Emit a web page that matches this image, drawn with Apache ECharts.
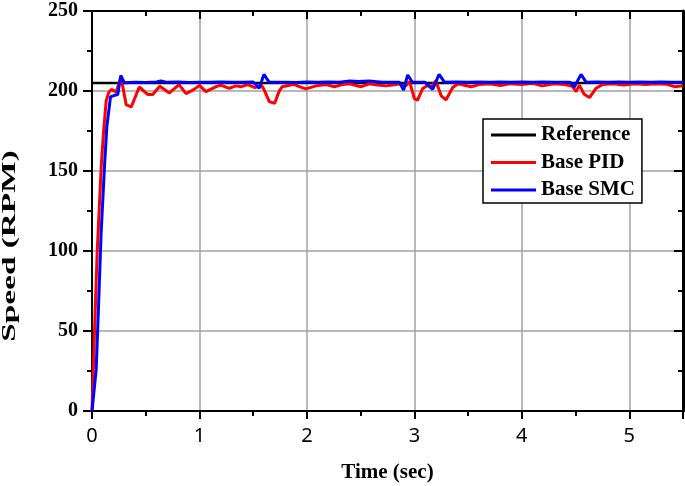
<!DOCTYPE html>
<html>
<head>
<meta charset="utf-8">
<script src="https://cdn.jsdelivr.net/npm/echarts@6/dist/echarts.min.js"></script>
<style>
  html, body { margin: 0; padding: 0; background: #fff; }
  #chart { width: 685px; height: 486px; }
</style>
</head>
<body>
<div id="chart"></div>
<script>
// speed response data, [time (sec), speed (RPM)]
var refData = [[0, 205], [5.5, 205]]

var pidData = [
  [0, 0], [0.023, 49], [0.048, 99], [0.086, 153], [0.107, 174], [0.132, 194],
  [0.155, 199], [0.18, 201], [0.225, 199.4], [0.27, 208.7], [0.318, 191.5], [0.365, 190],
  [0.44, 202.5], [0.52, 197.8], [0.565, 197.8], [0.63, 203], [0.72, 198.8], [0.81, 204],
  [0.875, 198.4], [0.95, 201], [1.0, 203.5], [1.06, 199.6], [1.155, 202.7], [1.2, 203.7],
  [1.277, 201.7], [1.34, 203.2], [1.39, 202.7], [1.45, 204], [1.515, 202.1], [1.575, 203.7],
  [1.6, 201], [1.65, 193.4], [1.7, 192.3], [1.74, 199.6], [1.77, 202.7], [1.88, 204.2],
  [1.93, 202.7], [1.99, 201.3], [2.085, 203.2], [2.18, 204], [2.255, 202.7], [2.33, 204],
  [2.395, 204.5], [2.505, 202.7], [2.58, 204.5], [2.66, 203.7], [2.735, 203.2], [2.83, 204],
  [2.86, 204.5], [2.9, 203], [2.925, 203.5], [2.955, 206], [3.0, 195.2], [3.03, 194.3],
  [3.077, 201.5], [3.124, 203.5], [3.155, 202.7], [3.2, 206.2], [3.25, 197], [3.295, 194.5],
  [3.355, 202], [3.405, 204.5], [3.53, 202.7], [3.6, 204], [3.7, 204.5], [3.8, 203.5],
  [3.9, 204.6], [4.0, 204], [4.1, 204.8], [4.19, 203.2], [4.3, 204.5], [4.4, 204],
  [4.47, 203], [4.505, 199.6], [4.535, 203.7], [4.58, 198], [4.63, 195.9], [4.69, 201.7],
  [4.75, 204], [4.85, 204.5], [4.95, 203.8], [5.05, 204.6], [5.15, 204], [5.25, 204.5],
  [5.35, 204.2], [5.42, 202.7], [5.5, 203.2]
]

var smcData = [
  [0, 0], [0.039, 26], [0.063, 69.5], [0.085, 111], [0.116, 152.6], [0.138, 177.6],
  [0.172, 196.3], [0.209, 197.3], [0.24, 197.8], [0.268, 209.7], [0.3, 205.2], [0.4, 205.5],
  [0.5, 205.3], [0.6, 205.6], [0.64, 206.2], [0.7, 205.4], [0.8, 205.6], [0.9, 205.3],
  [1.0, 205.5], [1.1, 205.4], [1.2, 205.7], [1.3, 205.4], [1.4, 205.5], [1.5, 205.6],
  [1.556, 201.7], [1.6, 210.4], [1.65, 205.4], [1.8, 205.5], [1.9, 205.3], [2.0, 205.6],
  [2.1, 205.4], [2.2, 205.6], [2.3, 205.5], [2.4, 206.2], [2.48, 206], [2.58, 206.2],
  [2.7, 205.5], [2.8, 205.4], [2.86, 205.5], [2.9, 200.6], [2.938, 210], [2.98, 205.6],
  [3.1, 205.4], [3.17, 201], [3.23, 210.4], [3.28, 205.5], [3.4, 205.6], [3.5, 205.4],
  [3.6, 205.6], [3.7, 205.4], [3.8, 205.6], [3.9, 205.4], [4.0, 205.6], [4.1, 205.4],
  [4.2, 205.6], [4.3, 205.4], [4.45, 205.5], [4.488, 202.5], [4.551, 210.4], [4.6, 205.4],
  [4.7, 205.6], [4.8, 205.4], [4.9, 205.6], [5.0, 205.4], [5.1, 205.6], [5.2, 205.4],
  [5.3, 205.6], [5.4, 205.4], [5.5, 205.5]
]

var seriesNames = ['Reference', 'Base PID', 'Base SMC']

var serif = '"Liberation Serif", "Times New Roman", serif'
var chart = echarts.init(document.getElementById('chart'))

var gridLine = { show: true, lineStyle: { color: '#a0a0a0', width: 1.5 } }
var blackLine = { show: true, onZero: false, lineStyle: { color: '#000', width: 2 } }

chart.setOption({
  animation: false,
  grid: { left: 92, right: 2, top: 11, bottom: 75, containLabel: false, outerBoundsMode: 'none' },
  legend: {
    data: seriesNames,
    orient: 'vertical',
    left: 483,
    top: 119,
    icon: 'rect',
    itemWidth: 45,
    itemHeight: 3,
    itemGap: 5.5,
    padding: [5, 7, 2, 8],
    borderColor: '#000',
    borderWidth: 1.5,
    backgroundColor: '#fff',
    textStyle: { fontFamily: serif, fontWeight: 'bold', fontSize: 21, color: '#000', lineHeight: 22 }
  },
  graphic: [{
    type: 'text',
    x: 10,
    y: 246,
    rotation: Math.PI / 2,
    scaleX: 1.85,
    style: {
      text: 'Speed (RPM)',
      fill: '#000',
      fontFamily: serif,
      fontWeight: 'bold',
      fontSize: 18,
      align: 'center',
      verticalAlign: 'middle'
    }
  }],
  xAxis: [{
    type: 'value',
    min: 0,
    max: 5.5,
    interval: 1,
    name: 'Time (sec)',
    nameLocation: 'middle',
    nameGap: 51,
    nameTextStyle: { fontFamily: serif, fontWeight: 'bold', fontSize: 21, color: '#000' },
    axisLine: blackLine,
    axisTick: { show: true, length: 8, lineStyle: { color: '#000', width: 2 } },
    minorTick: { show: true, splitNumber: 2, length: 5, lineStyle: { color: '#000', width: 2 } },
    axisLabel: { margin: 15, showMaxLabel: false, fontFamily: '"Noto Sans", sans-serif', fontSize: 20, color: '#000' },
    splitLine: gridLine
  }, {
    type: 'value',
    position: 'top',
    min: 0,
    max: 5.5,
    interval: 1,
    axisLine: blackLine,
    axisTick: { show: true, inside: true, length: 8, lineStyle: { color: '#000', width: 2 } },
    minorTick: { show: true, splitNumber: 2, length: 5, lineStyle: { color: '#000', width: 2 } },
    axisLabel: { show: false },
    splitLine: { show: false }
  }],
  yAxis: [{
    type: 'value',
    min: 0,
    max: 250,
    interval: 50,
    axisLine: blackLine,
    axisTick: { show: true, length: 9, lineStyle: { color: '#000', width: 2 } },
    minorTick: { show: true, splitNumber: 2, length: 5, lineStyle: { color: '#000', width: 2 } },
    axisLabel: { margin: 14, fontFamily: serif, fontWeight: 'bold', fontSize: 20, color: '#000' },
    splitLine: gridLine
  }, {
    type: 'value',
    position: 'right',
    min: 0,
    max: 250,
    interval: 50,
    axisLine: { show: true, onZero: false, lineStyle: { color: '#000', width: 3 } },
    axisTick: { show: true, inside: true, length: 9, lineStyle: { color: '#000', width: 2 } },
    minorTick: { show: true, splitNumber: 2, length: 5, lineStyle: { color: '#000', width: 2 } },
    axisLabel: { show: false },
    splitLine: { show: false }
  }],
  series: [{
    name: seriesNames[0],
    type: 'line',
    data: refData,
    showSymbol: false,
    color: '#000',
    lineStyle: { color: '#000', width: 2.5 }
  }, {
    name: seriesNames[1],
    type: 'line',
    data: pidData,
    showSymbol: false,
    color: '#ff0000',
    lineStyle: { color: '#ff0000', width: 3 }
  }, {
    name: seriesNames[2],
    type: 'line',
    data: smcData,
    showSymbol: false,
    color: '#0000ff',
    lineStyle: { color: '#0000ff', width: 3 }
  }]
})
</script>
</body>
</html>
